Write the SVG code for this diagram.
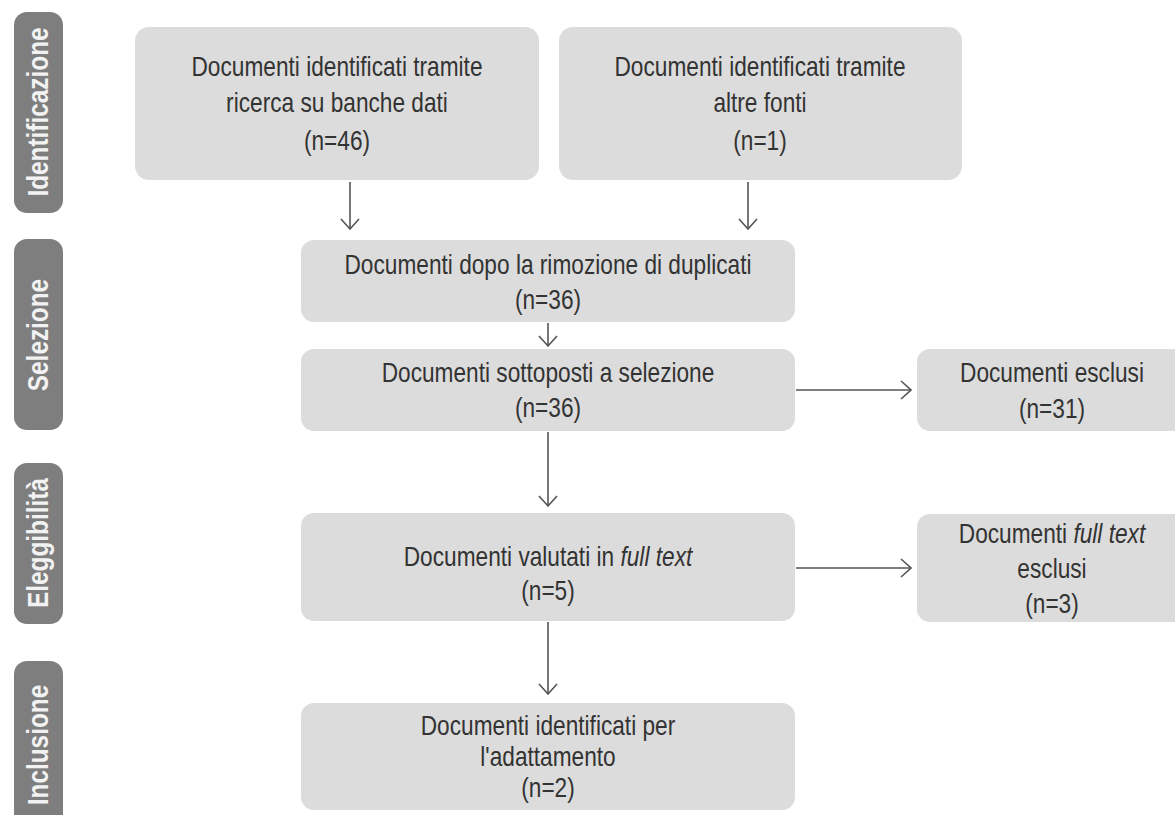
<svg xmlns="http://www.w3.org/2000/svg" width="1175" height="815" viewBox="0 0 1175 815">
<defs>
<style>
.box{fill:#dcdcdc;}
.bar{fill:#7e7e7e;}
.t{font-family:"Liberation Sans Narrow","Liberation Sans",Arial,sans-serif;font-size:27px;fill:#333;text-anchor:middle;}
.bt{font-family:"Liberation Sans Narrow","Liberation Sans",Arial,sans-serif;font-size:29px;font-weight:bold;fill:#f2f2f2;text-anchor:middle;}
.i{font-style:italic;}
.c{stroke:#555;stroke-width:1.6;fill:none;}
</style>
<marker id="ah" viewBox="0 0 12 20" refX="11" refY="10" markerWidth="12" markerHeight="20" markerUnits="userSpaceOnUse" orient="auto">
<path d="M1,1 L11,10 L1,19" fill="none" stroke="#555" stroke-width="1.6"/>
</marker>
</defs>
<rect width="1175" height="815" fill="#ffffff"/>

<g id="phase-identificazione">
<rect class="bar" x="14" y="12" width="49" height="201" rx="13"/>
<text class="bt" transform="translate(48,112) rotate(-90) scale(0.84,1)">Identificazione</text>
</g>
<g id="phase-selezione">
<rect class="bar" x="14" y="239" width="49" height="191" rx="13"/>
<text class="bt" transform="translate(48,335) rotate(-90) scale(0.84,1)">Selezione</text>
</g>
<g id="phase-eleggibilita">
<rect class="bar" x="14" y="463" width="49" height="161" rx="13"/>
<text class="bt" transform="translate(48,543) rotate(-90) scale(0.84,1)">Eleggibilità</text>
</g>
<g id="phase-inclusione">
<rect class="bar" x="14" y="661" width="49" height="170" rx="13"/>
<text class="bt" transform="translate(48,745) rotate(-90) scale(0.84,1)">Inclusione</text>
</g>

<g id="n-banche-dati">
<rect class="box" x="135" y="27" width="404" height="153" rx="14"/>
<g transform="translate(337,0) scale(0.84,1)">
<text class="t" x="0" y="76">Documenti identificati tramite</text>
<text class="t" x="0" y="112">ricerca su banche dati</text>
<text class="t" x="0" y="150">(n=46)</text>
</g>
</g>
<g id="n-altre-fonti">
<rect class="box" x="559" y="27" width="403" height="153" rx="14"/>
<g transform="translate(760,0) scale(0.84,1)">
<text class="t" x="0" y="76">Documenti identificati tramite</text>
<text class="t" x="0" y="112">altre fonti</text>
<text class="t" x="0" y="150">(n=1)</text>
</g>
</g>
<g id="n-duplicati">
<rect class="box" x="301" y="240" width="494" height="82" rx="13"/>
<g transform="translate(548,0) scale(0.84,1)">
<text class="t" x="0" y="274">Documenti dopo la rimozione di duplicati</text>
<text class="t" x="0" y="309">(n=36)</text>
</g>
</g>
<g id="n-selezione">
<rect class="box" x="301" y="349" width="494" height="82" rx="13"/>
<g transform="translate(548,0) scale(0.84,1)">
<text class="t" x="0" y="382">Documenti sottoposti a selezione</text>
<text class="t" x="0" y="417">(n=36)</text>
</g>
</g>
<g id="n-esclusi">
<rect class="box" x="917" y="349" width="272" height="82" rx="13"/>
<g transform="translate(1052,0) scale(0.84,1)">
<text class="t" x="0" y="382">Documenti esclusi</text>
<text class="t" x="0" y="418">(n=31)</text>
</g>
</g>
<g id="n-full-text">
<rect class="box" x="301" y="513" width="494" height="108" rx="13"/>
<g transform="translate(548,0) scale(0.84,1)">
<text class="t" x="0" y="566">Documenti valutati in <tspan class="i">full text</tspan></text>
<text class="t" x="0" y="600">(n=5)</text>
</g>
</g>
<g id="n-full-text-esclusi">
<rect class="box" x="917" y="514" width="272" height="108" rx="13"/>
<g transform="translate(1052,0) scale(0.84,1)">
<text class="t" x="0" y="543">Documenti <tspan class="i">full text</tspan></text>
<text class="t" x="0" y="578">esclusi</text>
<text class="t" x="0" y="613">(n=3)</text>
</g>
</g>
<g id="n-adattamento">
<rect class="box" x="301" y="703" width="494" height="107" rx="13"/>
<g transform="translate(548,0) scale(0.84,1)">
<text class="t" x="0" y="735">Documenti identificati per</text>
<text class="t" x="0" y="766">l'adattamento</text>
<text class="t" x="0" y="797">(n=2)</text>
</g>
</g>

<g id="connectors">
<line class="c" x1="350" y1="182" x2="350" y2="229" marker-end="url(#ah)"/>
<line class="c" x1="748" y1="182" x2="748" y2="229" marker-end="url(#ah)"/>
<line class="c" x1="548" y1="323" x2="548" y2="346" marker-end="url(#ah)"/>
<line class="c" x1="548" y1="432" x2="548" y2="506" marker-end="url(#ah)"/>
<line class="c" x1="548" y1="622" x2="548" y2="694" marker-end="url(#ah)"/>
<line class="c" x1="796" y1="390" x2="911" y2="390" marker-end="url(#ah)"/>
<line class="c" x1="796" y1="568" x2="911" y2="568" marker-end="url(#ah)"/>
</g>
</svg>
